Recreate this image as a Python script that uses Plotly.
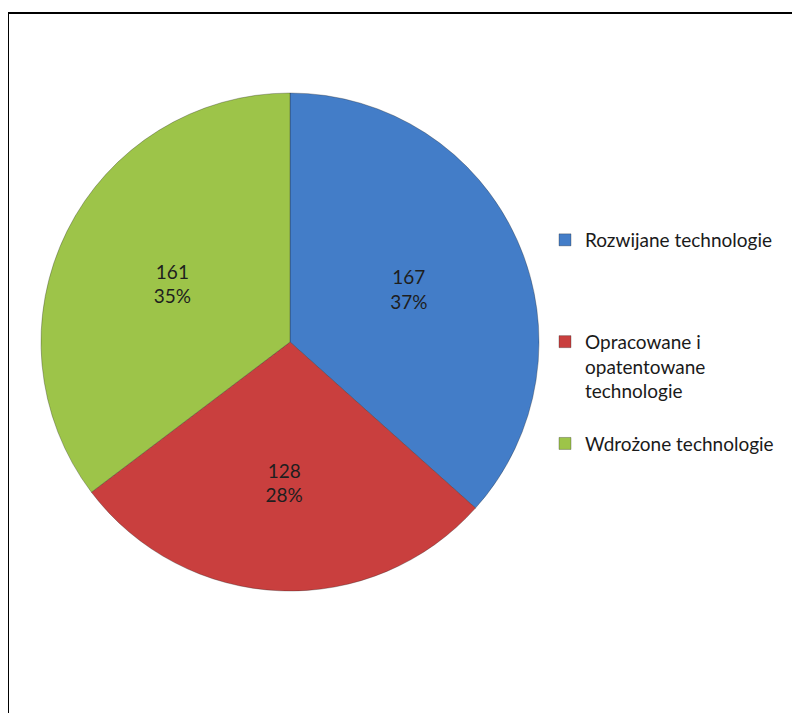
import plotly.graph_objects as go

legend_labels = ["Rozwijane technologie<br> <br> <br> ", "Opracowane i<br>opatentowane<br>technologie<br> ", "Wdrożone technologie"]
values = [167, 128, 161]
colors = ["#437dc8", "#c93f3e", "#9dc449"]

W, H = 800, 713
# page has an 8px body margin, so positions are offset accordingly
cx, cy, r = 282, 334, 249

fig = go.Figure()
fig.add_trace(go.Pie(
    labels=legend_labels,
    values=values,
    sort=False,
    direction="clockwise",
    rotation=0,
    marker=dict(colors=colors, line=dict(color="rgba(30,30,30,0.3)", width=1)),
    texttemplate="%{value}<br>%{percent:.0%}",
    textposition="inside",
    insidetextorientation="horizontal",
    textfont=dict(family="Lato", size=19, color="#1e1e1e"),
    hoverinfo="label+value+percent",
    domain=dict(x=[(cx - r) / W, (cx + r) / W], y=[1 - (cy + r) / H, 1 - (cy - r) / H]),
))

fig.update_layout(
    width=W, height=H,
    margin=dict(l=0, r=0, t=0, b=0),
    paper_bgcolor="white",
    showlegend=True,
    legend=dict(
        x=537 / W, y=1 - 213 / H, xanchor="left", yanchor="top",
        valign="top",
        font=dict(family="Lato", size=19, color="#1a1a1a"),
        itemwidth=30,
    ),
    shapes=[dict(type="rect", xref="paper", yref="paper",
                 x0=0, x1=1.05, y0=-0.05, y1=1 - 5 / H,
                 line=dict(color="black", width=2))],
)

fig.write_html("out.html")
